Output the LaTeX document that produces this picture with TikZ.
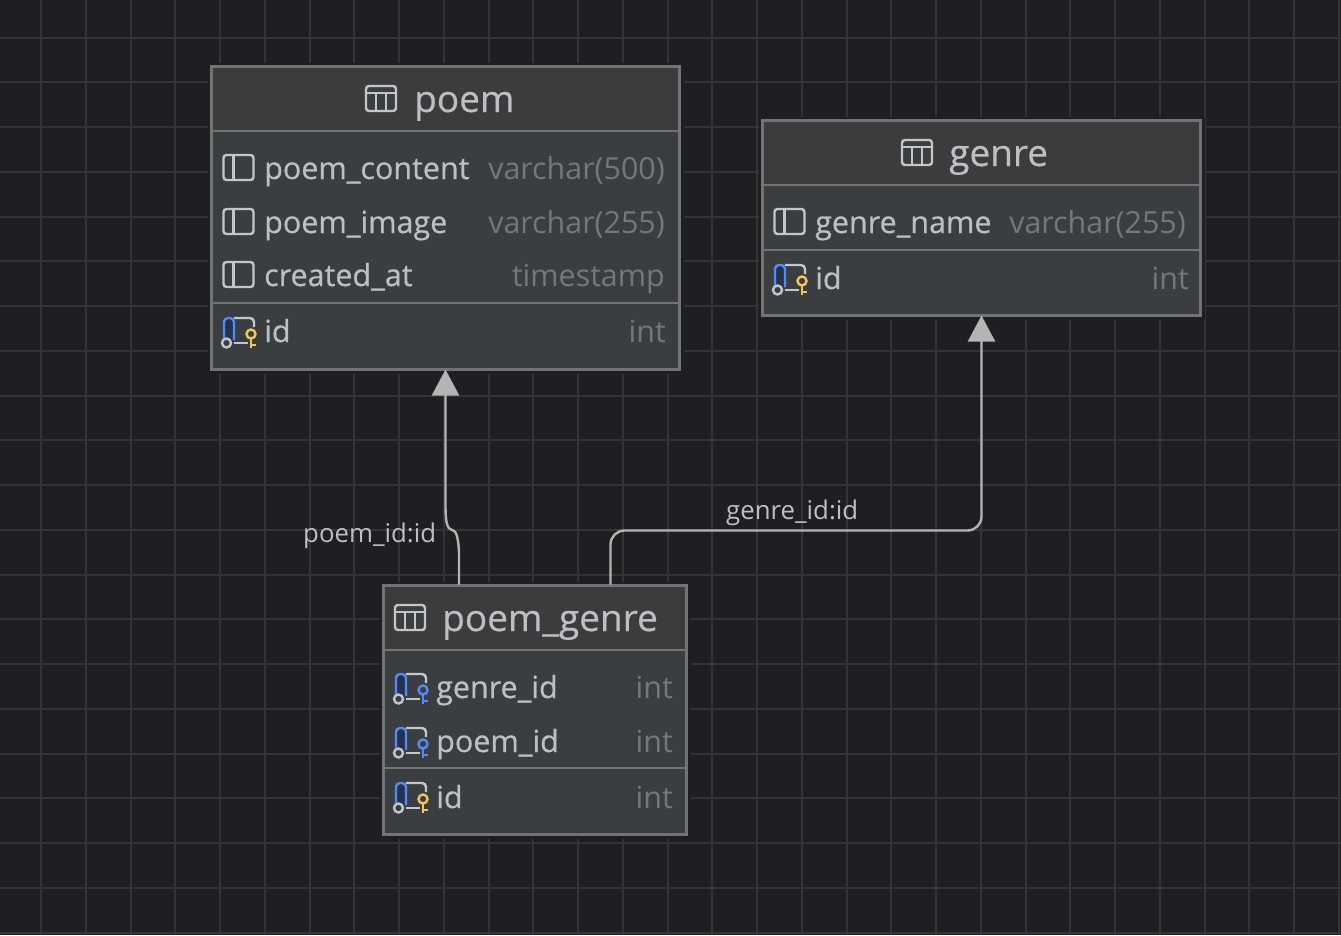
\documentclass[tikz,border=0pt]{standalone}
\usepackage{fontspec}
\setmainfont{Open Sans}
\newfontfamily\mediumfont[FakeBold=0.5]{Open Sans}
\usetikzlibrary{arrows.meta,calc}

\definecolor{canvasbg}{HTML}{1E1F22}
\definecolor{gridline}{HTML}{333435}
\definecolor{boxborder}{HTML}{727374}
\definecolor{headfill}{HTML}{3C3C3C}
\definecolor{bodyfill}{HTML}{3B3E41}
\definecolor{colname}{HTML}{BCBFC4}
\definecolor{coltype}{HTML}{74777B}
\definecolor{linkline}{HTML}{B4B4B4}
\definecolor{iconline}{HTML}{C4C6CA}
\definecolor{keyblue}{HTML}{548AF7}
\definecolor{keygold}{HTML}{F2C55C}
\definecolor{bluefill}{HTML}{25324D}

\tikzset{
    tablebody/.style={draw=boxborder, line width=2.3pt, fill=bodyfill, anchor=north west, inner sep=0pt, outer sep=0pt,
        preaction={draw=canvasbg, line width=8pt}},
    tablehead/.style={draw=boxborder, line width=2.3pt, fill=headfill, anchor=north west, inner sep=0pt, outer sep=0pt},
    divider/.style={draw=boxborder, line width=2.3pt},
    titletext/.style={anchor=base west, inner sep=0pt, text=colname, font=\mediumfont\fontsize{37}{37}\selectfont},
    nametext/.style={anchor=base west, inner sep=0pt, text=colname, font=\mediumfont\fontsize{30.5}{31}\selectfont},
    typetext/.style={anchor=base east, inner sep=0pt, text=coltype, font=\fontsize{30.4}{31}\selectfont},
    linktext/.style={anchor=base west, inner sep=0pt, text=colname, font=\fontsize{25.8}{26}\selectfont},
    link/.style={draw=linkline, line width=2.4pt},
    linkhead/.style={-{Triangle[length=26pt,width=27pt,color=linkline]}},
    pics/headicon/.style={code={
        \draw[iconline, line width=2.4pt, rounded corners=3pt, fill=bodyfill] (0,0) rectangle (30,25);
        \draw[iconline, line width=2.4pt] (0,7) -- (30,7) (10,7) -- (10,25) (20,7) -- (20,25);
    }},
    pics/colicon/.style={code={
        \draw[iconline, line width=2.4pt, rounded corners=3pt] (0,0) rectangle (30,25);
        \draw[iconline, line width=2.4pt] (10,0) -- (10,25);
    }},
    pics/keyicon/.style={code={
        \fill[bluefill] (1,1) rectangle (11,22);
        \draw[iconline, line width=2.4pt, rounded corners=4pt] (11,0) -- (31,0) -- (31,9);
        \draw[keyblue, line width=2.4pt, rounded corners=4pt] (1,20) -- (1,0) -- (11,0) -- (11,22);
        \draw[iconline, line width=2.4pt] (11,25) -- (25,25);
        \draw[iconline, line width=2.4pt, fill=bodyfill] (3.5,25) circle (4.5);
        \draw[#1, line width=2.4pt] (28,16) circle (4.5);
        \draw[#1, line width=2.4pt] (28,20.5) -- (28,30) (28,27) -- (33,27);
    }}
}

\begin{document}
\begin{tikzpicture}[x=1pt,y=-1pt]
        \useasboundingbox[fill=canvasbg] (0,0) rectangle (1341,935);

        % background grid
        \foreach \i in {0,...,29} {
            \draw[gridline, line width=2pt] ({41+44.75*\i},0) -- ({41+44.75*\i},935);
        }
        \foreach \i in {0,...,20} {
            \draw[gridline, line width=2pt] (0,{37.5+44.75*\i}) -- (1341,{37.5+44.75*\i});
        }

        % poem
        \node[tablebody, minimum width=468pt, minimum height=303pt] (poem) at (211.5,66.5) {};
        \node[tablehead, minimum width=468pt, minimum height=64.5pt] (poem_head) at (poem.north west) {};
        \draw[divider] (poem.west |- 0,303) -- (poem.east |- 0,303);
        \pic at (366,86) {headicon};
        \node[titletext] (poem_title) at (414,112) {poem};
        \pic at (223.5,155) {colicon};
        \pic at (223.5,209) {colicon};
        \pic at (223.5,262) {colicon};
        \pic at (223,318) {keyicon=keygold};
        \node[nametext] (poem_content) at (264,179) {poem\_content};
        \node[nametext] (poem_image) at (264,233) {poem\_image};
        \node[nametext] (poem_created) at (264,286) {created\_at};
        \node[nametext] (poem_pk) at (264,342) {id};
        \node[typetext] (poem_content_type) at (665,179) {varchar(500)};
        \node[typetext] (poem_image_type) at (665,233) {varchar(255)};
        \node[typetext] (poem_created_type) at (665,286) {timestamp};
        \node[typetext] (poem_pk_type) at (666,342) {int};

        % genre
        \node[tablebody, minimum width=438pt, minimum height=195pt] (genre) at (762.5,120.5) {};
        \node[tablehead, minimum width=438pt, minimum height=64.5pt] (genre_head) at (genre.north west) {};
        \draw[divider] (genre.west |- 0,250) -- (genre.east |- 0,250);
        \pic at (902,140) {headicon};
        \node[titletext] (genre_title) at (949,166) {genre};
        \pic at (774.5,209) {colicon};
        \pic at (774,265) {keyicon=keygold};
        \node[nametext] (genre_name) at (815,233) {genre\_name};
        \node[nametext] (genre_pk) at (815,289) {id};
        \node[typetext] (genre_name_type) at (1186,233) {varchar(255)};
        \node[typetext] (genre_pk_type) at (1189,289) {int};

        % poem_genre
        \node[tablebody, minimum width=303pt, minimum height=249pt] (poem_genre) at (383.5,585.5) {};
        \node[tablehead, minimum width=303pt, minimum height=64.5pt] (poem_genre_head) at (poem_genre.north west) {};
        \draw[divider] (poem_genre.west |- 0,768) -- (poem_genre.east |- 0,768);
        \pic at (395,605) {headicon};
        \node[titletext] (poem_genre_title) at (442,631) {poem\_genre};
        \pic at (395,674) {keyicon=keyblue};
        \pic at (395,728) {keyicon=keyblue};
        \pic at (395,783) {keyicon=keygold};
        \node[nametext] (pg_genre_id) at (436,698) {genre\_id};
        \node[nametext] (pg_poem_id) at (436,752) {poem\_id};
        \node[nametext] (pg_pk) at (436,808) {id};
        \node[typetext] (pg_genre_type) at (673,698) {int};
        \node[typetext] (pg_poem_type) at (673,752) {int};
        \node[typetext] (pg_pk_type) at (673,808) {int};

        % links
        \coordinate (pg_to_poem) at (459,584.5);
        \coordinate (pg_to_genre) at (610.5,584.5);
        \draw[link, linkhead] (pg_to_poem) -- (459,552) .. controls (458,535) and (456,531) .. (452,530)
            .. controls (447,529) and (445.5,522) .. (445.5,505) -- (poem.south);
        \draw[link, linkhead, rounded corners=14pt] (pg_to_genre) |- (genre.south |- 0,530.5) -- (genre.south);
        \node[linktext] (poem_link_label) at (303,542) {poem\_id:id};
        \node[linktext] (genre_link_label) at (726,519) {genre\_id:id};

    \end{tikzpicture}
\end{document}
